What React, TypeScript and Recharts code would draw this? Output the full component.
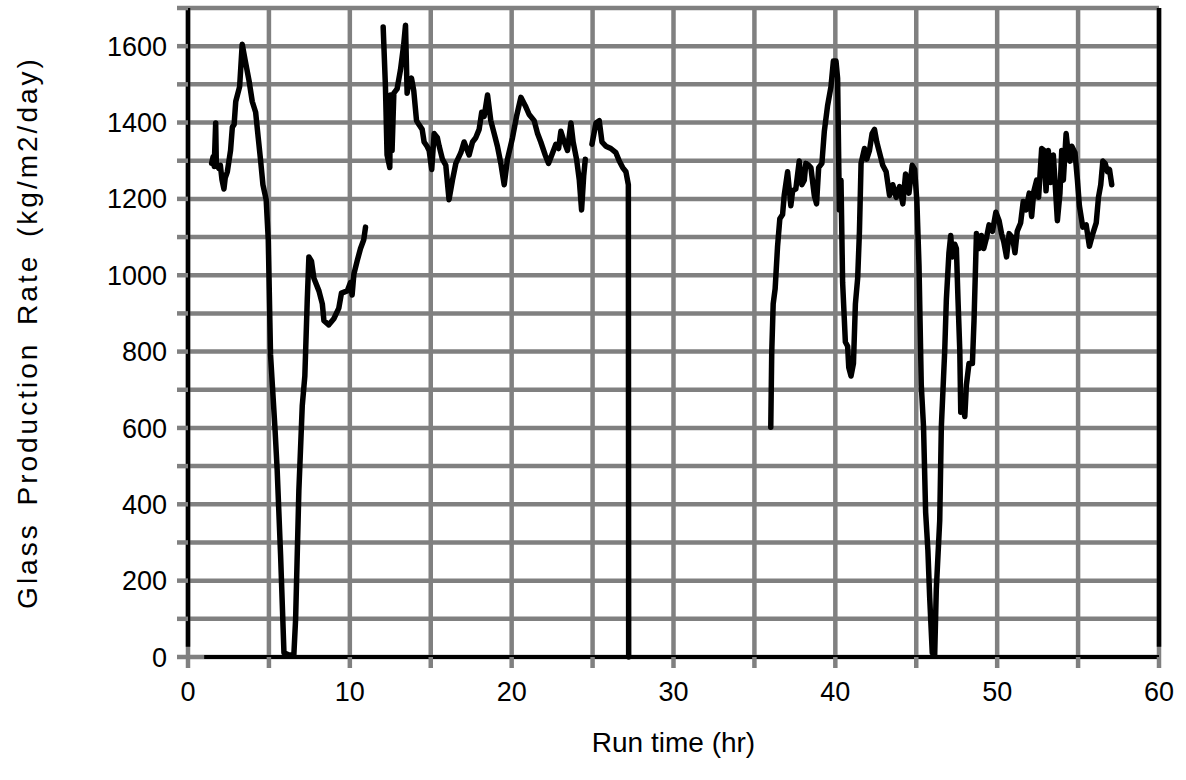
import React from "react";
import { LineChart, Line, XAxis, YAxis, CartesianGrid, ReferenceLine } from "recharts";

// Run time (hr) and glass production rate (kg/m2/day), one pair of arrays per
// continuous stretch of the run. Gaps between stretches are left open.
const stretch1Hours = [
  1.46, 1.55, 1.62, 1.71, 1.75, 1.9, 2.0, 2.1, 2.22, 2.3, 2.43, 2.63, 2.74, 2.85, 2.95, 3.19,
  3.35, 3.52, 3.77, 3.97, 4.18, 4.34, 4.49, 4.63, 4.83, 4.96, 5.1, 5.37, 5.51, 5.72, 5.93,
  6.24, 6.54, 6.65, 6.85, 7.06, 7.22, 7.37, 7.47, 7.63, 7.78, 8.09, 8.3, 8.4, 8.7, 9.01,
  9.32, 9.48, 9.84, 10.04, 10.14, 10.25, 10.45, 10.66, 10.86, 10.97,
];
const stretch1Rate = [
  1293, 1310, 1285, 1399, 1293, 1280, 1288, 1250, 1226, 1255, 1271, 1327, 1388, 1395, 1455, 1494,
  1605, 1566, 1510, 1455, 1427, 1360, 1299, 1237, 1198, 1093, 792, 602, 490, 268, 11,
  5, 5, 100, 435, 658, 736, 936, 1048, 1037, 992, 959, 925, 881, 870, 886,
  914, 953, 959, 981, 948, 1003, 1037, 1070, 1093, 1126,
];

const stretch2Hours = [
  12.06, 12.2, 12.3, 12.47, 12.51, 12.61, 12.72, 12.92, 13.13, 13.33, 13.44, 13.54, 13.64,
  13.81, 13.95, 14.12, 14.28, 14.47, 14.59, 14.77, 14.9, 15.06, 15.21, 15.41, 15.52, 15.72,
  15.93, 16.13, 16.34, 16.55, 16.86, 17.06, 17.37, 17.58, 17.78, 17.99, 18.15, 18.3, 18.51,
  18.71, 18.92, 19.12, 19.33, 19.54, 19.74, 20.05, 20.3, 20.57, 20.84, 21.08, 21.39, 21.6,
  21.8, 22.07, 22.28, 22.48, 22.73, 22.9, 23.04, 23.25, 23.45, 23.66, 23.8, 24.01, 24.18,
  24.32, 24.45, 24.55,
];
const stretch2Rate = [
  1650, 1494, 1315, 1282, 1472, 1327, 1477, 1488, 1538, 1605, 1655, 1477, 1505,
  1516, 1483, 1405, 1394, 1382, 1349, 1338, 1327, 1277, 1371, 1360, 1338, 1304,
  1288, 1198, 1249, 1293, 1321, 1349, 1315, 1349, 1360, 1382, 1427, 1416, 1472,
  1405, 1371, 1338, 1293, 1237, 1304, 1360, 1416, 1466, 1444, 1421, 1405, 1371,
  1349, 1315, 1293, 1315, 1343, 1332, 1377, 1349, 1327, 1399, 1349, 1304, 1249,
  1171, 1260, 1304,
];

const stretch3Hours = [24.96, 25.21, 25.41, 25.58, 25.82, 26.13, 26.44, 26.65, 26.86, 27.06, 27.21, 27.23];
const stretch3Rate = [1343, 1399, 1405, 1349, 1338, 1332, 1321, 1299, 1282, 1271, 1237, 0];

const stretch4Hours = [
  36.01, 36.07, 36.16, 36.28, 36.43, 36.57, 36.74, 36.84, 37.05, 37.25, 37.36, 37.56, 37.77,
  37.93, 38.08, 38.18, 38.35, 38.49, 38.7, 38.84, 38.97, 39.17, 39.32, 39.52, 39.73, 39.88,
  40.04, 40.14, 40.25, 40.35, 40.45, 40.62, 40.76, 40.83, 40.97, 41.12, 41.24, 41.38, 41.49,
  41.59, 41.8, 41.94, 42.11, 42.27, 42.42, 42.56, 42.73, 42.93, 43.14, 43.35, 43.55, 43.76,
  43.97, 44.17, 44.34, 44.55, 44.75, 44.9, 45.04, 45.17, 45.31, 45.45, 45.58, 45.72, 45.83,
  45.99, 46.14, 46.24, 46.45, 46.55, 46.76, 46.86, 47.02, 47.13, 47.23, 47.38, 47.48, 47.58,
  47.69, 47.75, 47.89, 48.0, 48.1, 48.26, 48.47, 48.57, 48.72, 48.88, 49.03, 49.17, 49.34,
  49.5, 49.71, 49.92, 50.12, 50.27, 50.41, 50.58, 50.74, 50.95, 51.1, 51.24, 51.45, 51.61,
  51.78, 51.98, 52.13, 52.27, 52.44, 52.56, 52.75, 52.89, 53.02, 53.16, 53.31, 53.47, 53.57,
  53.72, 53.88, 53.99, 54.09, 54.26, 54.4, 54.5, 54.61, 54.81, 54.96, 55.08, 55.29, 55.5,
  55.7, 55.91, 56.12, 56.26, 56.4, 56.53, 56.67, 56.82, 56.94, 57.08,
];
const stretch4Rate = [
  602, 797, 925, 964, 1076, 1148, 1159, 1209, 1271, 1182, 1221, 1226, 1299,
  1237, 1249, 1293, 1288, 1282, 1209, 1187, 1282, 1293, 1377, 1444, 1494, 1561,
  1561, 1516, 1171, 1249, 981, 825, 814, 758, 736, 769, 925, 992, 1115,
  1293, 1332, 1304, 1327, 1371, 1382, 1349, 1321, 1288, 1271, 1209, 1237, 1204,
  1232, 1187, 1265, 1215, 1288, 1277, 1193, 1026, 713, 602, 379, 279, 156,
  11, 6, 178, 357, 602, 803, 936, 1059, 1104, 1048, 1081, 1070, 936,
  803, 641, 658, 630, 713, 769, 769, 881, 1109, 1070, 1104, 1070, 1098,
  1132, 1115, 1165, 1143, 1109, 1087, 1048, 1109, 1098, 1059, 1115, 1137, 1193,
  1171, 1215, 1154, 1221, 1249, 1204, 1332, 1327, 1221, 1327, 1243, 1315, 1249,
  1143, 1215, 1327, 1249, 1371, 1315, 1299, 1338, 1321, 1249, 1182, 1126, 1132,
  1076, 1109, 1137, 1204, 1237, 1299, 1293, 1271, 1277, 1237,
];

const hourTicks = [0, 5, 10, 15, 20, 25, 30, 35, 40, 45, 50, 55, 60];
const rateTicks = [0, 100, 200, 300, 400, 500, 600, 700, 800, 900, 1000, 1100, 1200, 1300, 1400, 1500, 1600, 1700];

type Row = { hours: number; rate: number | null };

const stretches: [number[], number[]][] = [
  [stretch1Hours, stretch1Rate],
  [stretch2Hours, stretch2Rate],
  [stretch3Hours, stretch3Rate],
  [stretch4Hours, stretch4Rate],
];

// join the stretches, dropping a null row between them so the line breaks
const rows: Row[] = [];
stretches.forEach(([hours, rate], i) => {
  if (i > 0) {
    const prev = stretches[i - 1][0];
    rows.push({ hours: (prev[prev.length - 1] + hours[0]) / 2, rate: null });
  }
  hours.forEach((h, j) => rows.push({ hours: h, rate: rate[j] }));
});

const font = "'Liberation Sans', Arial, sans-serif";
const gridGray = "#808080";

export default function App() {
  return (
    <div style={{ position: "absolute", left: 0, top: 0, background: "#fff" }}>
      <LineChart
        width={1186}
        height={780}
        data={rows}
        margin={{ top: 8, right: 27, bottom: 0, left: 0 }}
      >
        <CartesianGrid stroke={gridGray} strokeWidth={4.5} />
        <XAxis
          type="number"
          dataKey="hours"
          domain={[0, 60]}
          ticks={hourTicks}
          tickFormatter={(v) => (v % 10 === 0 ? `${v}` : "")}
          axisLine={false}
          tickLine={{ stroke: gridGray, strokeWidth: 4.5 }}
          tickSize={11}
          tickMargin={14}
          height={123}
          tick={{ fill: "#000", fontSize: 27, fontFamily: font }}
          label={{
            value: "Run time (hr)",
            position: "insideBottom",
            offset: 28,
            fill: "#000",
            fontSize: 28,
            fontFamily: font,
          }}
        />
        <YAxis
          type="number"
          domain={[0, 1700]}
          ticks={rateTicks}
          tickFormatter={(v) => (v % 200 === 0 ? `${v}` : "")}
          axisLine={false}
          tickLine={{ stroke: gridGray, strokeWidth: 4.5 }}
          tickSize={11}
          tickMargin={10}
          width={188}
          tick={{ fill: "#000", fontSize: 27, fontFamily: font }}
          label={{
            value: "Glass Production Rate (kg/m2/day)",
            angle: -90,
            position: "insideLeft",
            offset: 27,
            fill: "#000",
            fontSize: 28,
            fontFamily: font,
            style: { textAnchor: "middle", letterSpacing: 3, wordSpacing: 6 },
          }}
        />
        <ReferenceLine segment={[{ x: 0, y: 27 }, { x: 0, y: 1700 }]} stroke="#000" strokeWidth={4.5} />
        <ReferenceLine segment={[{ x: 60, y: 27 }, { x: 60, y: 1700 }]} stroke="#000" strokeWidth={4.5} />
        <ReferenceLine segment={[{ x: 1, y: 0 }, { x: 60, y: 0 }]} stroke="#000" strokeWidth={4} />
        <Line
          type="linear"
          dataKey="rate"
          stroke="#000"
          strokeWidth={5.5}
          strokeLinejoin="round"
          strokeLinecap="round"
          dot={false}
          connectNulls={false}
          isAnimationActive={false}
        />
      </LineChart>
    </div>
  );
}
